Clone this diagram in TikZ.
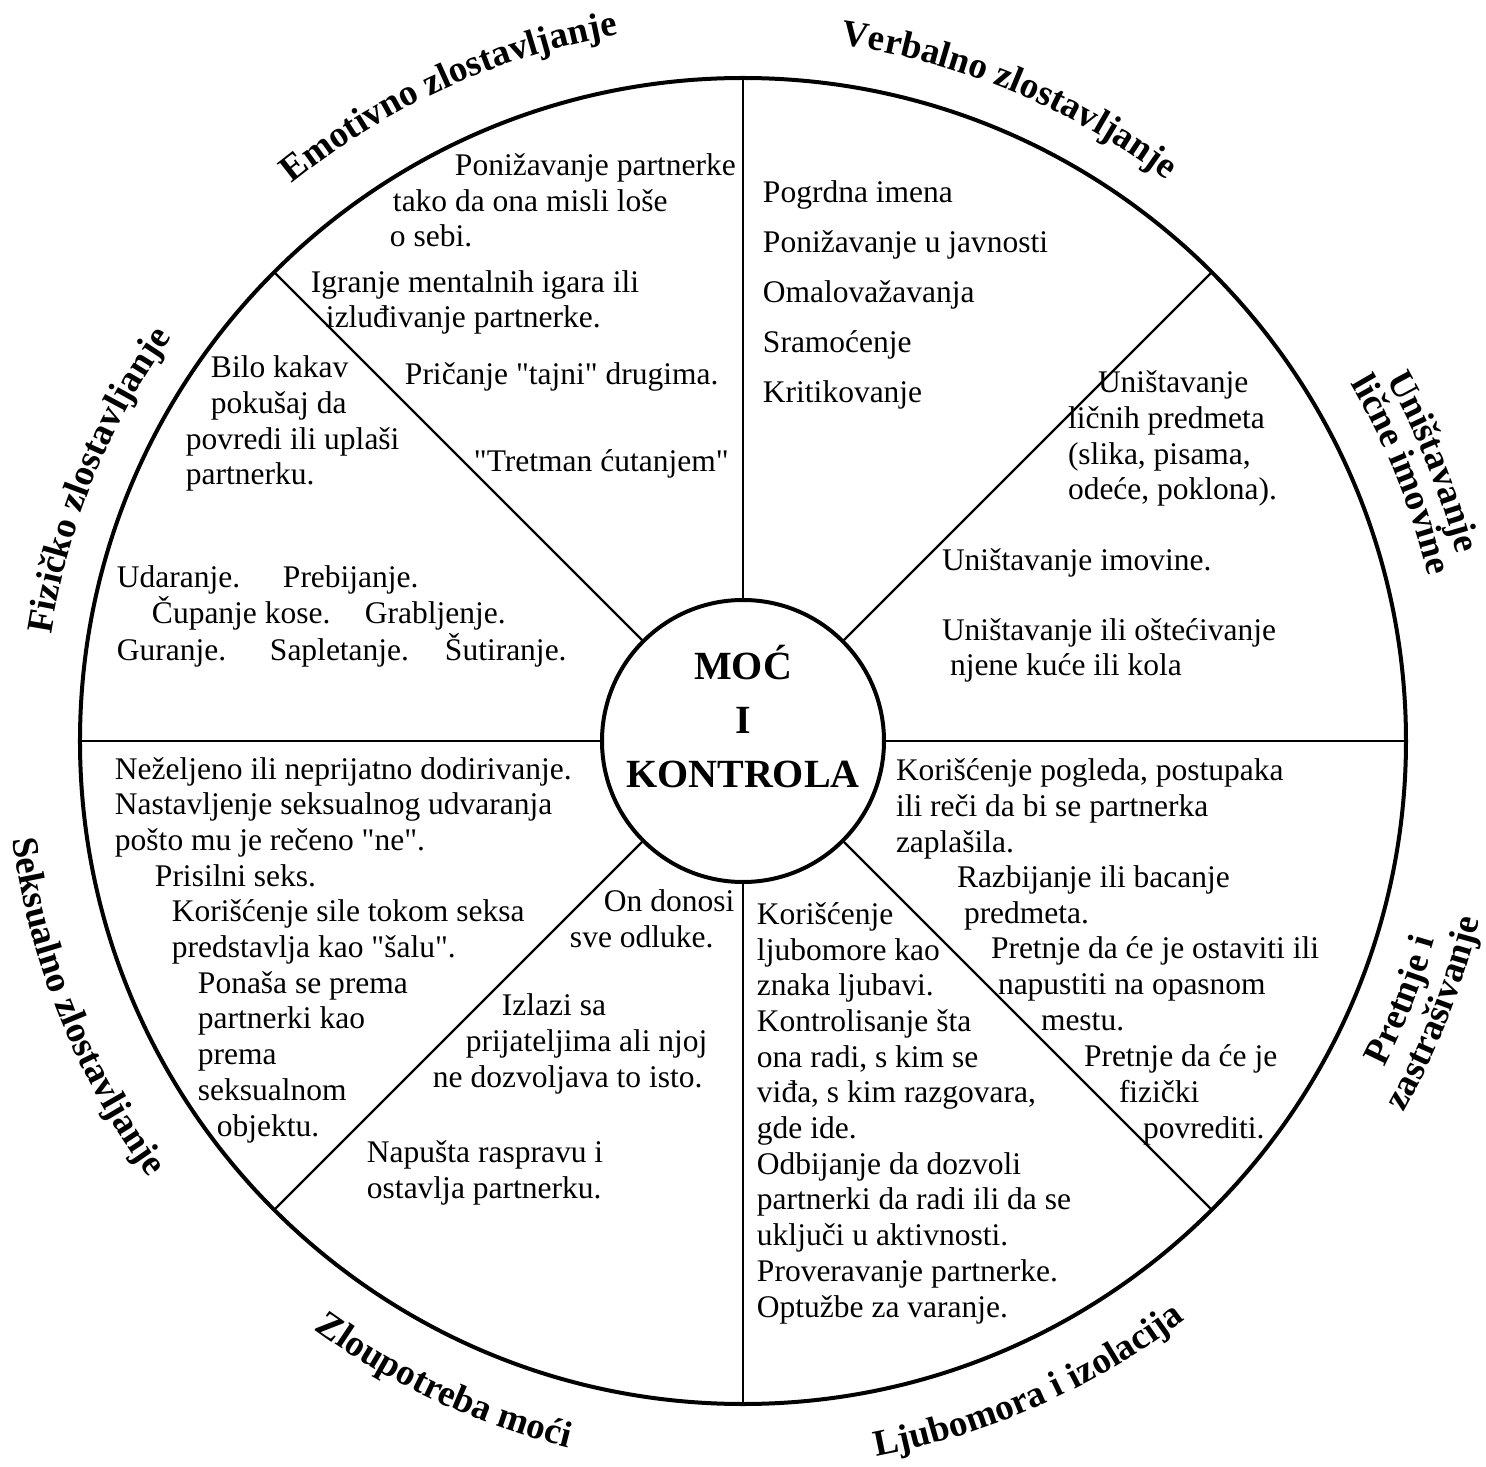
\documentclass[tikz,border=0pt]{standalone}
\usepackage{fontspec}
\setmainfont{Liberation Serif}[Ligatures=TeXOff]
\usetikzlibrary{decorations.text}

\newcommand\txtfont{\fontsize{31.5}{35.7}\selectfont}
\newcommand\lblfont{\bfseries\fontsize{37}{37}\selectfont}
\newcommand\hubfont{\bfseries\fontsize{40}{54}\selectfont}

\begin{document}
\begin{tikzpicture}[x=1pt, y=1pt,
        every node/.style={inner sep=0pt, outer sep=0pt},
        txt/.style={font=\txtfont, anchor=base west, align=left},
        lbl/.style={decorate, decoration={text along path, text align=center, text={|\lblfont|#1}}}]
        \path[use as bounding box, fill=white] (-743,-726) rectangle (743,741);

        % the wheel
        \node[circle, draw, line width=4pt, minimum size=1326] (wheel) at (0,0) {};
        \node[circle, draw, line width=4pt, minimum size=282] (hub) at (0,0) {};
        \foreach \a in {0,45,...,315}
            \draw[line width=2.2pt] (hub.\a) -- (wheel.\a);
        \node[font=\hubfont, align=center, anchor=base] (title) at (0,-46) {MOĆ\\I\\KONTROLA};

        % labels round the rim
        \path[lbl={Emotivno zlostavljanje}] (144.5:717) arc[start angle=144.5, end angle=84.5, radius=717];
        \path[lbl={Verbalno zlostavljanje}] (97.5:703) arc[start angle=97.5, end angle=37.5, radius=703];
        \path[lbl={Uništavanje}] (52:738) arc[start angle=52, end angle=-8, radius=738];
        \path[lbl={lične imovine}] (52:705) arc[start angle=52, end angle=-8, radius=705];
        \path[lbl={Pretnje i}] (-51.5:720) arc[start angle=-51.5, end angle=8.5, radius=720];
        \path[lbl={zastrašivanje}] (-51.5:758) arc[start angle=-51.5, end angle=8.5, radius=758];
        \path[lbl={Ljubomora i izolacija}] (264:728) arc[start angle=264, end angle=324, radius=728];
        \path[lbl={Zloupotreba moći}] (215:728) arc[start angle=215, end angle=275, radius=728];
        \path[lbl={Seksualno zlostavljanje}] (171:737) arc[start angle=171, end angle=233, radius=737];
        \path[lbl={Fizičko zlostavljanje}] (188:700) arc[start angle=188, end angle=128, radius=700];

        % emotivno
        \node[txt] (emoA) at (-353,494) {\hspace*{65pt}Ponižavanje partnerke\\\hspace*{3pt}tako da ona misli loše\\o sebi.};
        \node[txt] (emoB) at (-432,413) {Igranje mentalnih igara ili\\\hspace*{15pt}izluđivanje partnerke.};
        \node[txt] (emoC) at (-338,356) {Pričanje "tajni" drugima.};
        \node[txt] (emoD) at (-269,269) {"Tretman ćutanjem"};

        % fizicko
        \node[txt] (fizA) at (-557,256) {\hspace*{25pt}Bilo kakav\\\hspace*{25pt}pokušaj da\\povredi ili uplaši\\partnerku.};
        \foreach \x/\y/\t [count=\i] in {117/588/Udaranje., 283/588/Prebijanje.,
                152/624/Čupanje kose., 365/624/Grabljenje.,
                117/660/Guranje., 270/660/Sapletanje., 445/660/Šutiranje.}
            \node[txt] (fiz\i) at (\x-743,741-\y) {\t};

        % verbalno
        \node[txt, font=\fontsize{31.5}{50}\selectfont] (verA) at (20,338)
            {Pogrdna imena\\Ponižavanje u javnosti\\Omalovažavanja\\Sramoćenje\\Kritikovanje};

        % imovina
        \node[txt] (uniA) at (325,241) {\hspace*{30pt}Uništavanje\\ličnih predmeta\\(slika, pisama,\\odeće, poklona).};
        \node[txt] (uniB) at (199,170) {Uništavanje imovine.};
        \node[txt] (uniC) at (199,65) {Uništavanje ili oštećivanje\\\hspace*{8pt}njene kuće ili kola};

        % seksualno
        \node[txt] (sexA) at (-628,-395) {Neželjeno ili neprijatno dodirivanje.\\Nastavljenje seksualnog udvaranja\\pošto mu je rečeno "ne".\\
            \hspace*{40pt}Prisilni seks.\\\hspace*{57pt}Korišćenje sile tokom seksa\\\hspace*{57pt}predstavlja kao "šalu".\\
            \hspace*{83pt}Ponaša se prema\\\hspace*{83pt}partnerki kao\\\hspace*{83pt}prema\\\hspace*{83pt}seksualnom\\\hspace*{102pt}objektu.};

        % moc
        \node[txt] (mocA) at (-173,-206) {\hspace*{34pt}On donosi\\sve odluke.};
        \node[txt] (mocB) at (-310,-346) {\hspace*{69pt}Izlazi sa\\\hspace*{33pt}prijateljima ali njoj\\ne dozvoljava to isto.};
        \node[txt] (mocC) at (-376,-457) {Napušta raspravu i\\ostavlja partnerku.};

        % pretnje
        \node[txt] (preA) at (153,-111) {Korišćenje pogleda, postupaka\\ili reči da bi se partnerka\\zaplašila.};
        \node[txt] (preB) at (214,-182) {Razbijanje ili bacanje\\\hspace*{7pt}predmeta.};
        \node[txt] (preC) at (248,-289) {Pretnje da će je ostaviti ili\\\hspace*{7pt}napustiti na opasnom\\\hspace*{50pt}mestu.};
        \node[txt] (preD) at (341,-397) {Pretnje da će je\\\hspace*{35pt}fizički\\\hspace*{59pt}povrediti.};

        % ljubomora
        \node[txt] (ljuA) at (14,-576) {Korišćenje\\ljubomore kao\\znaka ljubavi.\\Kontrolisanje šta\\ona radi, s kim se\\viđa, s kim razgovara,\\gde ide.\\
            Odbijanje da dozvoli\\partnerki da radi ili da se\\uključi u aktivnosti.\\Proveravanje partnerke.\\Optužbe za varanje.};
\end{tikzpicture}
\end{document}
